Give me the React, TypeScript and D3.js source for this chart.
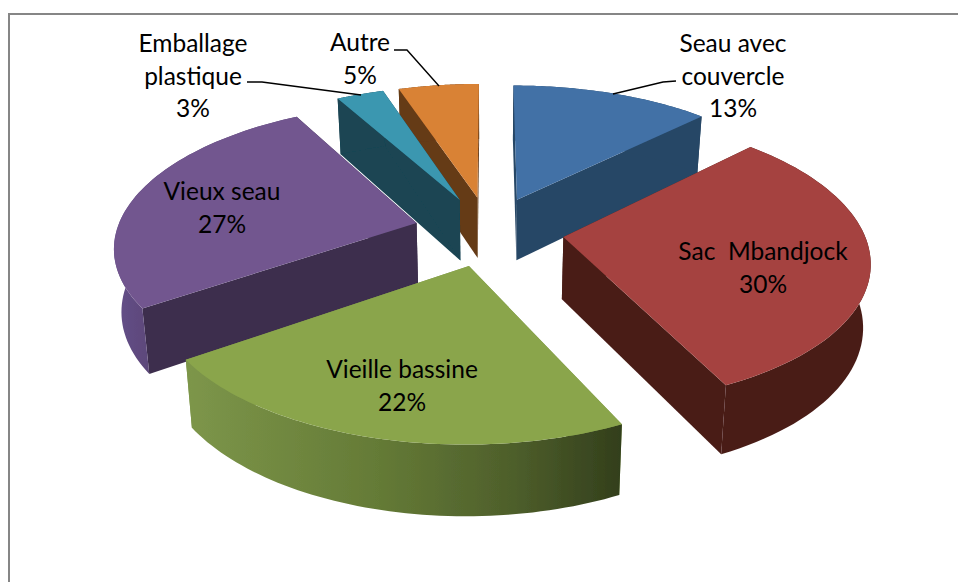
import React from "react";
import * as d3 from "d3";

const categories = ["Seau avec couvercle", "Sac Mbandjock", "Vieille bassine", "Vieux seau", "Emballage plastique", "Autre"];
const values = [12.6, 30.3, 22.5, 26.5, 3, 5.1];
const topColors = ["#4271a6", "#a54340", "#8aa54c", "#72578f", "#3b97b0", "#d98236"];
const wallColors = ["#274766", "#4a1d18", "#7d964a", "#3d2f4d", "#1a4553", "#653a17"];
const rimFills = ["#274766", "#4a1d18", "url(#greenRim)", "url(#purpleRim)", "#1a4553", "#653a17"];
const paintOrder = [0, 5, 4, 3, 1, 2];
const labelLines = [
  ["Seau avec", "couvercle", "13%"],
  ["Sac  Mbandjock", "30%"],
  ["Vieille bassine", "22%"],
  ["Vieux seau", "27%"],
  ["Emballage", "plastique", "3%"],
  ["Autre", "5%"],
];
const labelAnchors: [number, number][] = [[733, 52], [763, 260], [402, 378], [222, 200], [193, 52], [360, 51]];
const leaders: [number, number][][] = [
  [[676, 81], [663, 82], [613, 94]],
  [[247, 82], [262, 82], [361, 95]],
  [[394, 50], [407, 50], [439, 86]],
];

const W = 958, H = 582;
const cx = 489, cy = 231, Rx = 300, Ry = 140, persp = 0.15, explode = 0.25, depth = 62, shrink = 0.98;

type P = [number, number];
const project = (X: number, Y: number) => {
  const s = 1 / (1 + persp * Y);
  return { x: cx + Rx * X * s, y: cy - Ry * Y * s, s };
};
const top = (X: number, Y: number): P => { const p = project(X, Y); return [p.x, p.y]; };
const bottom = (X: number, Y: number): P => {
  const p = project(X, Y);
  return [cx + (p.x - cx) * shrink, p.y + depth * Math.pow(p.s, 0.7)];
};
const closed = d3.line<P>().curve(d3.curveLinearClosed);
const open = d3.line<P>();

const arcs = d3.pie<number>().sort(null).startAngle(0).endAngle(2 * Math.PI)(values);

const slices = arcs.map((a, i) => {
  const mid = (a.startAngle + a.endAngle) / 2;
  const ox = explode * Math.sin(mid), oy = explode * Math.cos(mid);
  const steps = d3.range(0, 61).map((k) => a.startAngle + ((a.endAngle - a.startAngle) * k) / 60);
  const rim: P[] = steps.map((t) => [ox + Math.sin(t), oy + Math.cos(t)]);
  const rimTop = rim.map(([x, y]) => top(x, y));
  const rimBot = rim.map(([x, y]) => bottom(x, y));
  const apexT = top(ox, oy), apexB = bottom(ox, oy);
  const n = rim.length - 1;
  return {
    i,
    topPath: closed([apexT, ...rimTop])!,
    rimPath: closed([...rimTop, ...rimBot.slice().reverse()])!,
    wallA: closed([apexT, rimTop[0], rimBot[0], apexB])!,
    wallB: closed([apexT, rimTop[n], rimBot[n], apexB])!,
  };
});

export default function App() {
  return (
    <svg width={W} height={H} style={{ position: "absolute", left: 0, top: 0, background: "#fff" }} aria-label={categories.join(", ")}>
      <defs>
        <linearGradient id="greenRim" gradientUnits="userSpaceOnUse" x1={186} x2={620} y1={0} y2={0}>
          <stop offset="0" stopColor="#7d964a" />
          <stop offset="0.45" stopColor="#647a36" />
          <stop offset="0.75" stopColor="#4e5f2b" />
          <stop offset="1" stopColor="#333f1c" />
        </linearGradient>
        <linearGradient id="purpleRim" gradientUnits="userSpaceOnUse" x1={113} x2={150} y1={0} y2={0}>
          <stop offset="0" stopColor="#65508a" />
          <stop offset="1" stopColor="#5c4779" />
        </linearGradient>
        <filter id="soft" x="-5%" y="-5%" width="110%" height="110%">
          <feGaussianBlur stdDeviation="0.45" />
        </filter>
      </defs>
      <path d="M9 582V14H958" fill="none" stroke="#868686" strokeWidth={2} />
      <g filter="url(#soft)">
        {paintOrder.map((idx) => {
          const s = slices[idx];
          return (
            <g key={idx}>
              <path d={s.wallA} fill={wallColors[idx]} />
              <path d={s.wallB} fill={wallColors[idx]} />
              <path d={s.rimPath} fill={rimFills[idx]} />
              <path d={s.topPath} fill={topColors[idx]} />
            </g>
          );
        })}
      </g>
      {leaders.map((l, i) => (
        <path key={i} d={open(l)!} fill="none" stroke="#000" strokeWidth={1.4} />
      ))}
      <g fontFamily="Lato, 'Open Sans', sans-serif" fontSize={24.5} fill="#000" textAnchor="middle">
        {labelLines.map((lines, i) => (
          <text key={i} x={labelAnchors[i][0]} y={labelAnchors[i][1]} xmlSpace="preserve">
            {lines.map((t, k) => (
              <tspan key={k} x={labelAnchors[i][0]} dy={k === 0 ? 0 : 32.5}>{t}</tspan>
            ))}
          </text>
        ))}
      </g>
    </svg>
  );
}
